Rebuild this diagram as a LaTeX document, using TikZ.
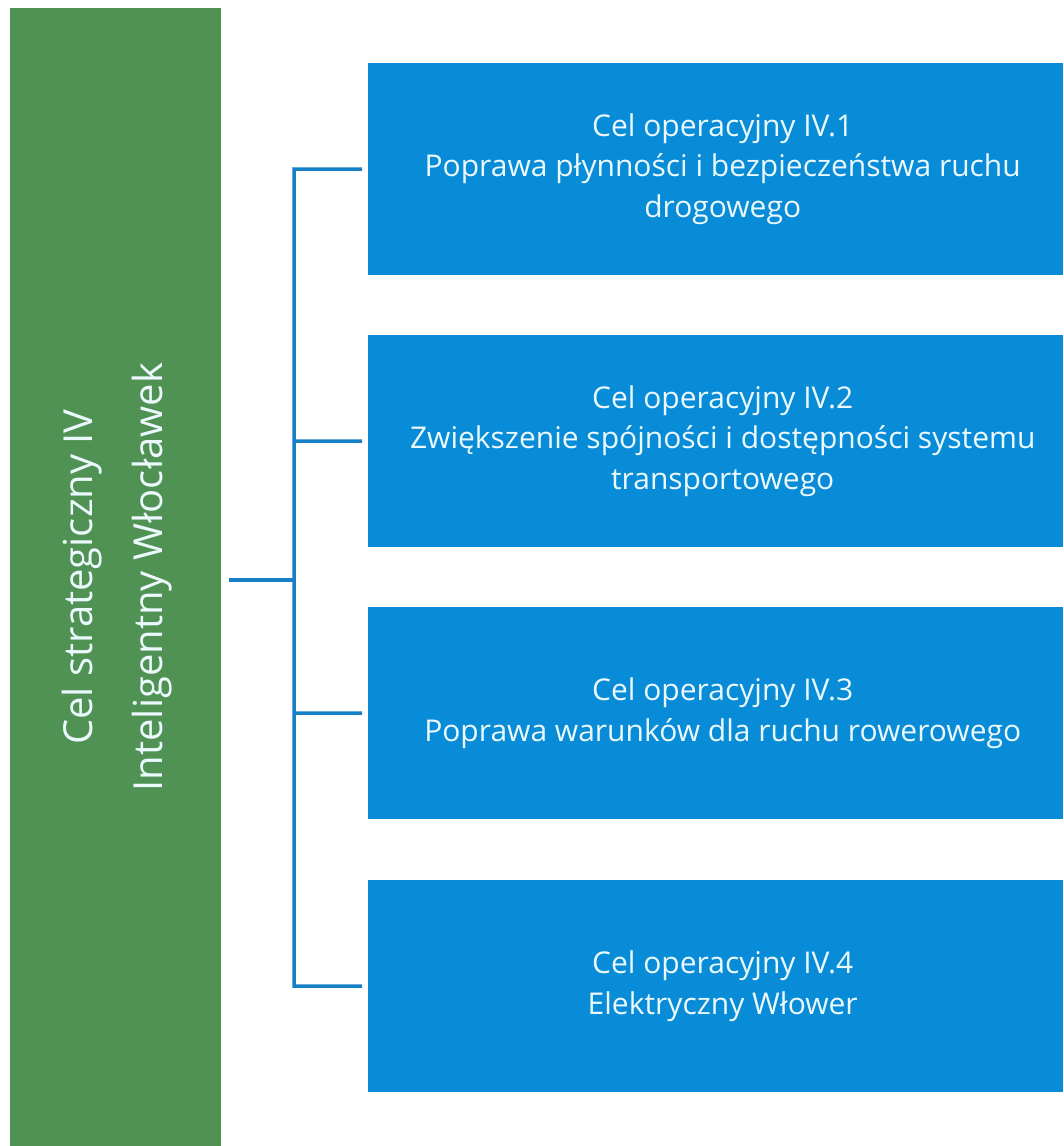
\documentclass[tikz,border=0pt]{standalone}
\usepackage{fontspec}
\setmainfont{Open Sans}
\definecolor{stratgreen}{RGB}{80,145,84}
\definecolor{opblue}{RGB}{8,140,215}
\definecolor{linkblue}{RGB}{22,128,198}
\definecolor{txtwhite}{RGB}{235,248,252}
\begin{document}
\begin{tikzpicture}[x=1pt,y=-1pt,
  opbox/.style={fill=opblue, draw=none, minimum width=695pt, minimum height=212pt,
    inner sep=0pt, anchor=north west},
  optext/.style={text=txtwhite, align=center, inner sep=0pt,
    font=\fontsize{30}{40.5}\selectfont},
  strat/.style={fill=stratgreen, draw=none, minimum width=211pt, minimum height=1138pt,
    anchor=north west, inner sep=0pt},
  strattext/.style={text=txtwhite, align=center, rotate=90, inner sep=0pt,
    font=\fontsize{40}{70}\selectfont},
  link/.style={draw=linkblue, line width=3.5pt}]
\useasboundingbox (0,0) rectangle (1063,1146);
\node[strat] (s) at (10,8) {};
\node[strattext] (st) at (117,577) {Cel strategiczny IV\\Inteligentny Włocławek};
\node[opbox] (b1) at (368,63) {};
\node[opbox] (b2) at (368,335) {};
\node[opbox] (b3) at (368,607) {};
\node[opbox] (b4) at (368,880) {};
\node[optext] (t1) at ([xshift=7pt]b1.center) {Cel operacyjny IV.1\\Poprawa płynności i bezpieczeństwa ruchu\\drogowego};
\node[optext] (t2) at ([xshift=7pt]b2.center) {Cel operacyjny IV.2\\Zwiększenie spójności i dostępności systemu\\transportowego};
\node[optext] (t3) at ([xshift=7pt]b3.center) {Cel operacyjny IV.3\\Poprawa warunków dla ruchu rowerowego};
\node[optext] (t4) at ([xshift=7pt]b4.center) {Cel operacyjny IV.4\\Elektryczny Włower};
\coordinate (hub) at (294,580);
\coordinate (top) at (294,169);
\coordinate (bot) at (294,986);
\draw[link] (s.east |- hub) ++(8,0) -- (hub);
\draw[link, line join=miter] ([xshift=-6pt]b1.west) -- (top) -- (bot) -- ([xshift=-6pt]b4.west);
\draw[link] (294,441) -- ([xshift=-6pt]b2.west);
\draw[link] (294,713) -- ([xshift=-6pt]b3.west);
\end{tikzpicture}
\end{document}
